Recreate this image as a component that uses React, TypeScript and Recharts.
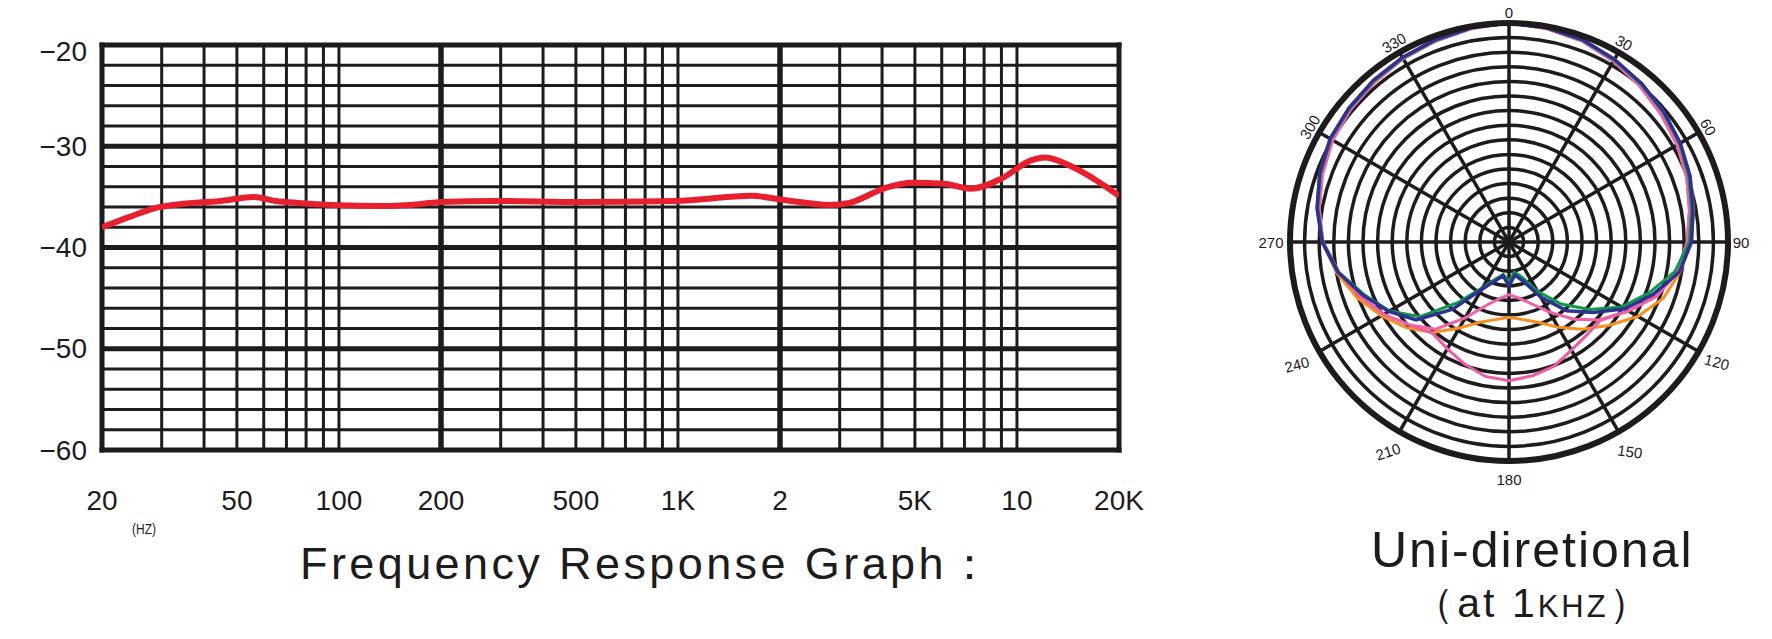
import React from "react";
import {
  LineChart,
  Line,
  XAxis,
  YAxis,
  ReferenceLine,
  RadarChart,
  Radar,
  PolarGrid,
  PolarAngleAxis,
  PolarRadiusAxis,
} from "recharts";

// ---- frequency response (log x axis, dB) ----
const FREQ_HZ = [20, 24, 28, 37, 45, 56, 65, 76, 96, 135, 175, 200, 290, 510, 980, 1650, 2050, 2800, 3200, 4100, 4900, 6100, 7300, 9000, 11000, 12100, 14700, 17200, 20000];
const RESPONSE_DB = [-38.0, -37.0, -36.2, -35.6, -35.4, -35.0, -35.4, -35.6, -35.8, -35.9, -35.7, -35.5, -35.4, -35.5, -35.4, -34.9, -35.3, -35.8, -35.6, -34.1, -33.6, -33.7, -34.2, -33.2, -31.4, -31.1, -32.1, -33.4, -34.9];

const X_TICKS = [20, 50, 100, 200, 500, 1000, 2000, 5000, 10000, 20000];
const X_TICK_LABELS = ["20", "50", "100", "200", "500", "1K", "2", "5K", "10", "20K"];
const Y_TICKS = [-20, -30, -40, -50, -60];

const MINOR_FREQ_LINES = [30, 40, 50, 60, 70, 80, 90, 100, 300, 400, 500, 600, 700, 800, 900, 1000, 3000, 4000, 5000, 6000, 7000, 8000, 9000, 10000];
const MAJOR_FREQ_LINES = [200, 2000];
const MINOR_DB_LINES = [-22, -24, -26, -28, -32, -34, -36, -38, -42, -44, -46, -48, -52, -54, -56, -58];
const MAJOR_DB_LINES = [-30, -40, -50];

// ---- polar pattern (dB, 0 = outer ring) ----
const ANGLES = [0, 10, 20, 30, 40, 50, 60, 70, 80, 90, 100, 110, 120, 130, 140, 150, 160, 170, 180, 190, 200, 210, 220, 230, 240, 250, 260, 270, 280, 290, 300, 310, 320, 330, 340, 350];
const BLUE = [0, -0.2, -0.5, -1.1, -1.7, -2.3, -2.9, -3.6, -4.4, -5.0, -6.3, -9.0, -11.7, -15.0, -17.7, -21.3, -24.3, -25.4, -24.0, -25.3, -24.3, -22.5, -18.0, -13.4, -11.0, -8.7, -6.2, -4.4, -3.3, -2.4, -1.7, -1.4, -1.1, -0.8, -0.5, -0.2];
const GREEN = [0, -0.2, -0.6, -1.2, -1.8, -2.4, -3.0, -3.8, -4.6, -5.3, -6.9, -9.6, -12.2, -15.6, -18.9, -22.2, -24.9, -25.8, -24.6, -25.5, -24.6, -22.8, -19.2, -14.1, -11.1, -8.9, -6.3, -4.5, -3.4, -2.5, -1.8, -1.5, -1.2, -0.9, -0.6, -0.2];
const PINK = [0, -0.3, -0.7, -1.4, -2.1, -2.8, -3.4, -4.1, -4.9, -5.6, -6.6, -8.4, -11.1, -13.4, -16.2, -18.9, -21.0, -22.2, -22.8, -22.1, -20.7, -18.0, -14.4, -12.3, -10.2, -8.3, -6.3, -4.5, -3.6, -2.8, -2.1, -1.7, -1.4, -1.0, -0.7, -0.3];
const MAGENTA = [0, -0.3, -0.7, -1.4, -2.1, -2.8, -3.4, -4.1, -4.9, -5.6, -6.6, -8.4, -11.1, -13.5, -13.4, -12.9, -11.9, -11.4, -11.0, -11.3, -12.2, -13.1, -13.7, -12.3, -10.2, -8.3, -6.3, -4.5, -3.6, -2.8, -2.1, -1.7, -1.4, -1.0, -0.7, -0.3];
const ORANGE = [0, -0.2, -0.5, -1.1, -1.7, -2.3, -2.9, -3.6, -4.3, -5.0, -6.2, -7.5, -9.6, -12.2, -14.4, -16.5, -18.3, -19.2, -19.7, -19.2, -18.3, -16.4, -13.8, -11.7, -9.8, -7.8, -6.0, -4.4, -3.3, -2.4, -1.7, -1.4, -1.1, -0.8, -0.5, -0.2];

const ANGLE_TICKS = [0, 30, 60, 90, 120, 150, 180, 210, 240, 270, 300, 330];
const RING_TICKS = [-30, -28, -26, -24, -22, -20, -18, -16, -14, -12, -10, -8, -6, -4, -2, 0];
const MAJOR_RING_TICKS = [-20, -10];

const INK = "#1d1b1c";
const FONT = "'Liberation Sans', Arial, Helvetica, sans-serif";

const responseData = FREQ_HZ.map((f, i) => ({ freq: f, db: RESPONSE_DB[i] }));
const polarData = ANGLES.map((a, i) => ({
  angle: a,
  blue: BLUE[i],
  green: GREEN[i],
  pink: PINK[i],
  magenta: MAGENTA[i],
  orange: ORANGE[i],
}));

const FreqTick = (props: any) => {
  const { x, y, payload } = props;
  const label = X_TICK_LABELS[X_TICKS.indexOf(payload.value)];
  return (
    <text x={x} y={y + 50} textAnchor="middle" dominantBaseline="central" fontSize={28} fill={INK} fontFamily={FONT}>
      {label}
    </text>
  );
};

const DbTick = (props: any) => {
  const { x, y, payload } = props;
  // top label sits a little below the frame in the original
  const shift = payload.value === -20 ? 6 : 0;
  return (
    <text x={x} y={y + shift} textAnchor="end" dominantBaseline="central" fontSize={28} fill={INK} fontFamily={FONT}>
      {"\u2212" + Math.abs(payload.value)}
    </text>
  );
};

// label tilt and extra outward push for the lower labels
const LABEL_TILT: Record<number, number> = { 30: 30, 60: 60, 120: 15, 150: 8, 210: -18, 240: -15, 300: -60, 330: -30 };
const LABEL_PUSH: Record<number, number> = { 90: 2, 120: 10, 150: 12, 180: 7, 210: 12, 240: 15, 270: 8 };

const AngleTick = (props: any) => {
  const { x, y, payload } = props;
  const v = payload.value;
  const rot = LABEL_TILT[v] || 0;
  const push = LABEL_PUSH[v] || 0;
  const rad = (v * Math.PI) / 180;
  const tx = x + push * Math.sin(rad);
  const ty = y - push * Math.cos(rad);
  return (
    <text
      x={tx}
      y={ty}
      textAnchor="middle"
      dominantBaseline="central"
      fontSize={15}
      fill={INK}
      fontFamily={FONT}
      transform={`rotate(${rot} ${tx} ${ty})`}
    >
      {v}
    </text>
  );
};

export default function App() {
  return (
    <div style={{ position: "absolute", left: 0, top: 0, width: 1772, height: 639, background: "#fff", fontFamily: FONT }}>
      <div style={{ position: "absolute", left: 0, top: 0 }}>
        <LineChart width={1160} height={639} data={responseData} margin={{ top: 45, right: 41, bottom: 129, left: 12 }}>
          <XAxis
            dataKey="freq"
            type="number"
            scale="log"
            domain={[20, 20000]}
            ticks={X_TICKS}
            allowDataOverflow
            tickLine={false}
            axisLine={false}
            tickSize={0}
            tickMargin={0}
            height={60}
            tick={<FreqTick />}
            interval={0}
          />
          <YAxis
            type="number"
            domain={[-60, -20]}
            ticks={Y_TICKS}
            tickLine={false}
            axisLine={false}
            tickSize={0}
            tickMargin={15}
            width={90}
            tick={<DbTick />}
            interval={0}
          />
          {MINOR_DB_LINES.map((v) => (
            <ReferenceLine key={`h${v}`} y={v} stroke={INK} strokeWidth={3} />
          ))}
          {MAJOR_DB_LINES.map((v) => (
            <ReferenceLine key={`H${v}`} y={v} stroke={INK} strokeWidth={5} />
          ))}
          {MINOR_FREQ_LINES.map((v) => (
            <ReferenceLine key={`v${v}`} x={v} stroke={INK} strokeWidth={3} />
          ))}
          {MAJOR_FREQ_LINES.map((v) => (
            <ReferenceLine key={`V${v}`} x={v} stroke={INK} strokeWidth={5.5} />
          ))}
          <ReferenceLine x={20} stroke={INK} strokeWidth={5} strokeLinecap="square" />
          <ReferenceLine x={20000} stroke={INK} strokeWidth={5} strokeLinecap="square" />
          <ReferenceLine y={-20} stroke={INK} strokeWidth={5} strokeLinecap="square" />
          <ReferenceLine y={-60} stroke={INK} strokeWidth={5} strokeLinecap="square" />
          <Line
            type="monotone"
            dataKey="db"
            stroke="#e8202e"
            strokeWidth={6}
            dot={false}
            activeDot={false}
            isAnimationActive={false}
          />
        </LineChart>
      </div>

      <div style={{ position: "absolute", left: 1250, top: 0 }}>
        <RadarChart width={520} height={500} cx={259} cy={242} outerRadius={219} startAngle={90} endAngle={-270} data={polarData} margin={{ top: 0, right: 0, bottom: 0, left: 0 }}>
          <PolarGrid gridType="circle" stroke={INK} strokeWidth={3.5} />
          <PolarGrid gridType="circle" radiusAxisId="major" radialLines={false} stroke={INK} strokeWidth={5.5} />
          <PolarAngleAxis
            dataKey="angle"
            type="number"
            domain={[0, 360]}
            ticks={ANGLE_TICKS}
            tickLine={false}
            tickSize={11}
            axisLineType="circle"
            axisLine={{ stroke: INK, strokeWidth: 6 }}
            tick={<AngleTick />}
          />
          <PolarRadiusAxis type="number" domain={[-30, 0]} ticks={RING_TICKS} tick={false} axisLine={false} />
          <PolarRadiusAxis radiusAxisId="major" type="number" domain={[-30, 0]} ticks={MAJOR_RING_TICKS} tick={false} axisLine={false} />
          <Radar dataKey="orange" stroke="#f7901e" strokeWidth={3} fill="none" fillOpacity={0} dot={false} isAnimationActive={false} />
          <Radar dataKey="magenta" stroke="#ec5ca6" strokeWidth={3} fill="none" fillOpacity={0} dot={false} isAnimationActive={false} />
          <Radar dataKey="pink" stroke="#ee62aa" strokeWidth={3} fill="none" fillOpacity={0} dot={false} isAnimationActive={false} />
          <Radar dataKey="green" stroke="#0b9a4a" strokeWidth={3} fill="none" fillOpacity={0} dot={false} isAnimationActive={false} />
          <Radar dataKey="blue" stroke="#2e3192" strokeWidth={3.5} fill="none" fillOpacity={0} dot={false} isAnimationActive={false} />
        </RadarChart>
      </div>

      <svg width={1772} height={639} style={{ position: "absolute", left: 0, top: 0, pointerEvents: "none" }}>
        <text x={144} y={528} textAnchor="middle" dominantBaseline="central" fontSize={15} fill={INK} fontFamily={FONT} textLength={24} lengthAdjust="spacingAndGlyphs">
          (HZ)
        </text>
        <text x={300} y={579} fontSize={45} fill={INK} fontFamily={FONT} style={{ letterSpacing: "3.4px" }}>
          Frequency Response Graph：
        </text>
        <text x={1371} y={567} fontSize={50} fill={INK} fontFamily={FONT} style={{ letterSpacing: "2px" }}>
          Uni-diretional
        </text>
        <text x={1533} y={617} textAnchor="middle" fontSize={41} fill={INK} fontFamily={FONT} style={{ letterSpacing: "3px" }}>
          （at 1<tspan fontSize={31}>KHZ</tspan>）
        </text>
      </svg>
    </div>
  );
}
